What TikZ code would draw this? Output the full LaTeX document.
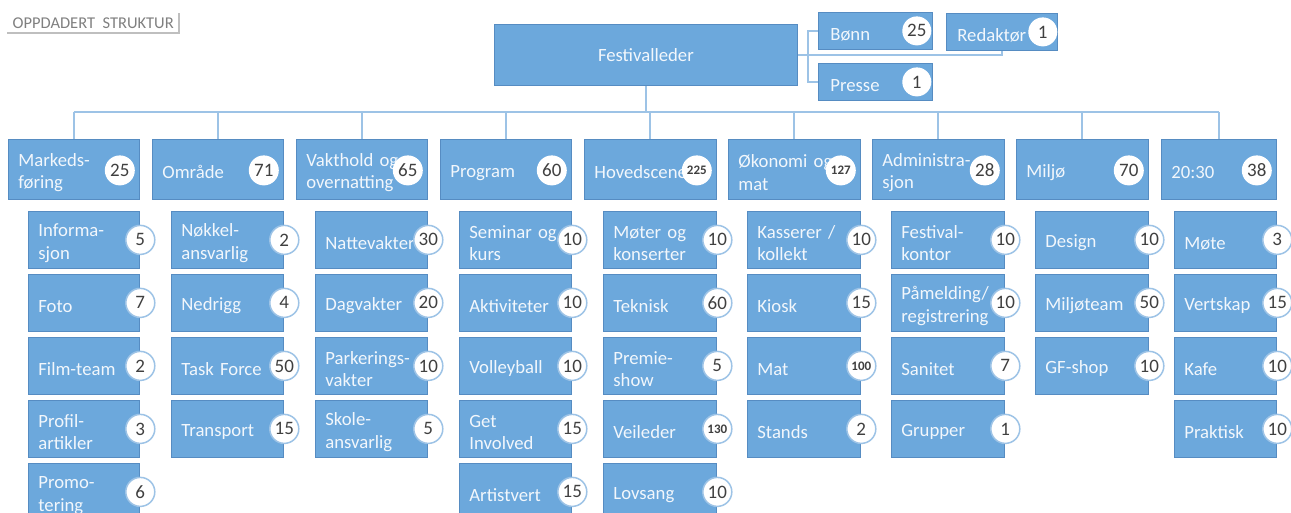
\documentclass[tikz,border=0pt]{standalone}
\usepackage{fontspec}
\setmainfont{Carlito}
\usetikzlibrary{backgrounds}
\definecolor{boxfill}{RGB}{108,168,220}
\definecolor{boxline}{RGB}{86,140,194}
\definecolor{connblue}{RGB}{157,195,230}
\definecolor{boxtext}{RGB}{242,247,252}
\definecolor{numtext}{RGB}{64,64,64}
\definecolor{titlegray}{RGB}{128,128,128}
\definecolor{titleline}{RGB}{191,191,191}
\newcommand\boxfont{\fontsize{18.7}{22.5}\selectfont\hyphenpenalty10000\exhyphenpenalty10000\relax}
\tikzset{
  basebox/.style={rectangle, fill=boxfill, draw=boxline, line width=0.8pt, text=boxtext,
    font=\boxfont, align=left, inner xsep=10pt, inner ysep=0pt, anchor=north west},
  lowtext/.style={execute at begin node={\rule{0pt}{19pt}}},
  headbox/.style={basebox, lowtext, minimum height=60pt},
  childbox/.style={basebox, lowtext, minimum height=57pt},
  topbox/.style={basebox, lowtext, minimum height=37pt, inner xsep=12pt},
  badge/.style={circle, fill=white, text=numtext, font=\fontsize{19}{19}\selectfont,
    minimum size=30pt, inner sep=0pt},
  topbadge/.style={badge, minimum size=29pt},
  cbadge/.style={badge, draw=connblue, line width=1.5pt, minimum size=29pt},
  link/.style={draw=connblue, line width=2pt},
}
\newcommand\smallnum[1]{{\fontsize{13}{13}\selectfont\bfseries #1}}
\newcommand\headnode[5]{%
  \pgfmathsetlengthmacro\tw{#3-20}%
  \node[headbox, text width=\tw] (#1) at (#2,139) {#4};
  \node[badge] (#1n) at ([xshift=-20pt,yshift=-1pt]#1.east) {#5};}
\newcommand\childnode[6]{%
  \pgfmathsetmacro\ty{211+63*(#4-1)}%
  \pgfmathsetlengthmacro\tw{#3-#2-20}%
  \node[childbox, text width=\tw] (#1) at (#2,\ty) {#5};
  \node[cbadge] (#1n) at ([xshift=0.5pt]#1.east) {#6};}
\begin{document}
\begin{tikzpicture}[x=1pt,y=-1pt]
\useasboundingbox (0,0) rectangle (1291,513);
\begin{pgfonlayer}{background}
\fill[white] (0,0) rectangle (1291,513);
\end{pgfonlayer}
\clip (0,0) rectangle (1291,513);

% title
\node[minimum width=172pt, minimum height=20pt, inner sep=0pt, anchor=south west,
  text=titlegray, font=\fontsize{16.5}{16.5}\selectfont] (title) at (7,33) {OPPDADERT\ \ STRUKTUR};
\draw[titleline, line width=2pt] (title.south west) -- (title.south east) -- (title.north east);

% top
\node[basebox, align=center, minimum width=303pt, minimum height=61pt] (fest) at (494,24) {Festivalleder};
\node[topbox, text width=90pt] (bonn) at (818,12) {Bønn};
\node[topbadge] (bonnn) at ([xshift=-16pt]bonn.east) {25};
\node[topbox, text width=90pt] (presse) at (818,63) {Presse};
\node[topbadge] (pressen) at ([xshift=-16pt]presse.east) {1};
\node[topbox, text width=89pt, inner xsep=11pt] (red) at (946,13) {Redaktør};
\node[topbadge] (redn) at ([xshift=-15pt]red.east) {1};

% heads
\headnode{h1}{8}{131}{Markeds-\\føring}{25}
\headnode{h2}{152}{131}{Område}{71}
\headnode{h3}{296}{131}{Vakthold og\\overnatting}{65}
\headnode{h4}{440}{131}{Program}{60}
\headnode{h5}{584}{132}{Hovedscene}{\smallnum{225}}
\headnode{h6}{728}{132}{Økonomi og\\mat}{\smallnum{127}}
\headnode{h7}{872}{132}{Administra-\\sjon}{28}
\headnode{h8}{1016}{132}{Miljø}{70}
\headnode{h9}{1161}{115}{20:30}{38}

% children
\childnode{c11}{28}{139}{1}{Informa-\\sjon}{5}
\childnode{c12}{28}{139}{2}{Foto}{7}
\childnode{c13}{28}{139}{3}{Film-team}{2}
\childnode{c14}{28}{139}{4}{Profil-\\artikler}{3}
\childnode{c15}{28}{139}{5}{Promo-\\tering}{6}

\childnode{c21}{171}{283}{1}{Nøkkel-\\ansvarlig}{2}
\childnode{c22}{171}{283}{2}{Nedrigg}{4}
\childnode{c23}{171}{283}{3}{Task Force}{50}
\childnode{c24}{171}{283}{4}{Transport}{15}

\childnode{c31}{315}{427}{1}{Nattevakter}{30}
\childnode{c32}{315}{427}{2}{Dagvakter}{20}
\childnode{c33}{315}{427}{3}{Parkerings-\\vakter}{10}
\childnode{c34}{315}{427}{4}{Skole-\\ansvarlig}{5}

\childnode{c41}{459}{571}{1}{Seminar og\\kurs}{10}
\childnode{c42}{459}{571}{2}{Aktiviteter}{10}
\childnode{c43}{459}{571}{3}{Volleyball}{10}
\childnode{c44}{459}{571}{4}{Get\\Involved}{15}
\childnode{c45}{459}{571}{5}{Artistvert}{15}

\childnode{c51}{603}{716}{1}{Møter og\\konserter}{10}
\childnode{c52}{603}{716}{2}{Teknisk}{60}
\childnode{c53}{603}{716}{3}{Premie-\\show}{5}
\childnode{c54}{603}{716}{4}{Veileder}{\smallnum{130}}
\childnode{c55}{603}{716}{5}{Lovsang}{10}

\childnode{c61}{747}{860}{1}{Kasserer /\\kollekt}{10}
\childnode{c62}{747}{860}{2}{Kiosk}{15}
\childnode{c63}{747}{860}{3}{Mat}{\smallnum{100}}
\childnode{c64}{747}{860}{4}{Stands}{2}

\childnode{c71}{891}{1004}{1}{Festival-\\kontor}{10}
\childnode{c72}{891}{1004}{2}{Påmelding/\\registrering}{10}
\childnode{c73}{891}{1004}{3}{Sanitet}{7}
\childnode{c74}{891}{1004}{4}{Grupper}{1}

\childnode{c81}{1035}{1148}{1}{Design}{10}
\childnode{c82}{1035}{1148}{2}{Miljøteam}{50}
\childnode{c83}{1035}{1148}{3}{GF-shop}{10}

\childnode{c91}{1174}{1276}{1}{Møte}{3}
\childnode{c92}{1174}{1276}{2}{Vertskap}{15}
\childnode{c93}{1174}{1276}{3}{Kafe}{10}
\childnode{c94}{1174}{1276}{4}{Praktisk}{10}

% connectors
\begin{pgfonlayer}{background}
\coordinate (bus) at (0,112);
\coordinate (br) at (808,53);
\draw[link] (fest.south) -- (fest.south |- bus);
\draw[link] (h1.north |- bus) -- (h9.north |- bus);
\foreach \n in {h1,h2,h3,h4,h5,h6,h7,h8,h9}
  \draw[link] (\n.north) -- (\n.north |- bus);
\draw[link] (fest.east) -| (red.south);
\draw[link] (bonn.west) -| (br) |- (presse.west);
\end{pgfonlayer}
\end{tikzpicture}
\end{document}
